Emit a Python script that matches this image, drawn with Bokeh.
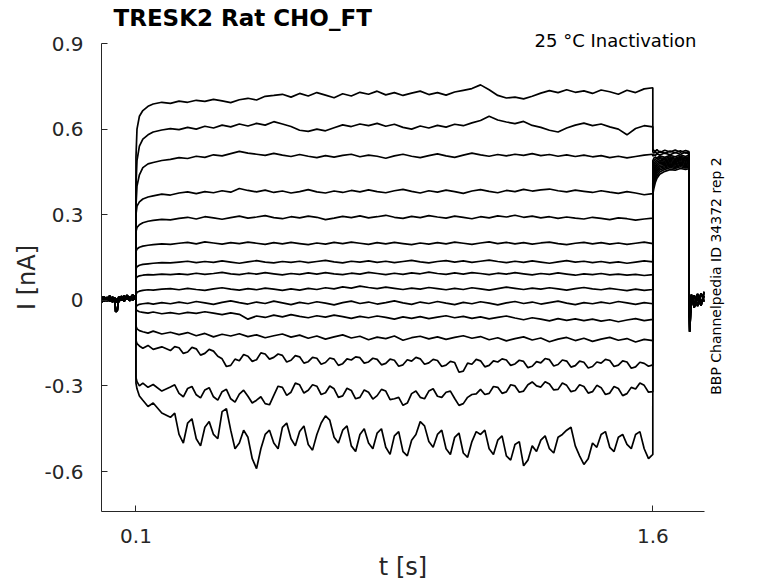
import math
from bokeh.plotting import figure
from bokeh.models import FixedTicker, LinearAxis
from bokeh.embed import file_html
from bokeh.resources import INLINE

# ---------------- data ----------------
title_text = "TRESK2  Rat  CHO_FT"
condition_text = "25 °C  Inactivation"
id_text = "BBP Channelpedia ID 34372 rep 2"

x_ticks = [0.1, 1.6]
x_tick_labels = ["0.1", "1.6"]
y_ticks = [-0.6, -0.3, 0.0, 0.3, 0.6, 0.9]
y_tick_labels = ["-0.6", "-0.3", "0", "0.3", "0.6", "0.9"]

# anchor positions (data units) of the two annotation texts
condition_x = 1.50
id_y = -0.331

# holding period before the step (s) and three overlapping baseline recordings (nA)
t_pre = [0.0, 0.008, 0.016, 0.024, 0.032, 0.038, 0.041, 0.046, 0.05, 0.058, 0.066, 0.074, 0.082, 0.09, 0.0999]
i_pre_a = [0.004, 0.012, -0.002, 0.010, 0.003, 0.008, -0.040, -0.035, 0.006, 0.014, 0.002, 0.011, -0.001, 0.009, 0.005]
i_pre_b = [-0.006, 0.002, 0.010, -0.004, 0.012, -0.002, 0.004, -0.008, 0.012, 0.000, 0.016, 0.004, 0.013, 0.001, 0.008]
i_pre_c = [0.014, -0.004, 0.006, 0.016, -0.006, 0.010, -0.003, 0.006, -0.005, 0.008, -0.004, 0.018, 0.006, 0.019, 0.012]

# step period (s)
t_step = [0.100, 0.103, 0.110, 0.120, 0.135, 0.150, 0.175, 0.200,
          0.225, 0.250, 0.275, 0.300, 0.325, 0.350, 0.375, 0.400,
          0.425, 0.450, 0.475, 0.500, 0.525, 0.550, 0.575, 0.600,
          0.625, 0.650, 0.675, 0.700, 0.725, 0.750, 0.775, 0.800,
          0.825, 0.850, 0.875, 0.900, 0.925, 0.950, 0.975, 1.000,
          1.025, 1.050, 1.075, 1.100, 1.125, 1.150, 1.175, 1.200,
          1.225, 1.250, 1.275, 1.300, 1.325, 1.350, 1.375, 1.400,
          1.425, 1.450, 1.475, 1.500, 1.525, 1.550, 1.575, 1.600]
# extra in-between samples for the three noisiest (most negative) sweeps
t_mid = [0.2125, 0.2375, 0.2625, 0.2875, 0.3125, 0.3375, 0.3625, 0.3875,
         0.4125, 0.4375, 0.4625, 0.4875, 0.5125, 0.5375, 0.5625, 0.5875,
         0.6125, 0.6375, 0.6625, 0.6875, 0.7125, 0.7375, 0.7625, 0.7875,
         0.8125, 0.8375, 0.8625, 0.8875, 0.9125, 0.9375, 0.9625, 0.9875,
         1.0125, 1.0375, 1.0625, 1.0875, 1.1125, 1.1375, 1.1625, 1.1875,
         1.2125, 1.2375, 1.2625, 1.2875, 1.3125, 1.3375, 1.3625, 1.3875,
         1.4125, 1.4375, 1.4625, 1.4875, 1.5125, 1.5375, 1.5625, 1.5875]

i_step_1 = [0.500, 0.600, 0.645, 0.665, 0.680, 0.688, 0.694, 0.690,
            0.698, 0.694, 0.701, 0.697, 0.704, 0.699, 0.693, 0.703,
            0.708, 0.702, 0.715, 0.718, 0.722, 0.712, 0.725, 0.716,
            0.728, 0.719, 0.710, 0.724, 0.716, 0.729, 0.722, 0.733,
            0.720, 0.728, 0.718, 0.726, 0.733, 0.721, 0.728, 0.719,
            0.730, 0.736, 0.742, 0.755, 0.738, 0.718, 0.709, 0.712,
            0.706, 0.715, 0.726, 0.735, 0.728, 0.738, 0.729, 0.734,
            0.725, 0.737, 0.731, 0.722, 0.736, 0.728, 0.741, 0.745]
i_step_2 = [0.400, 0.490, 0.540, 0.565, 0.580, 0.590, 0.597, 0.602,
            0.598, 0.606, 0.600, 0.610, 0.604, 0.614, 0.608, 0.618,
            0.611, 0.620, 0.614, 0.626, 0.618, 0.609, 0.596, 0.592,
            0.600, 0.594, 0.605, 0.615, 0.609, 0.618, 0.612, 0.620,
            0.610, 0.617, 0.606, 0.600, 0.611, 0.604, 0.613, 0.607,
            0.617, 0.612, 0.622, 0.630, 0.645, 0.632, 0.625, 0.619,
            0.627, 0.613, 0.606, 0.596, 0.590, 0.604, 0.614, 0.621,
            0.612, 0.618, 0.608, 0.600, 0.580, 0.602, 0.612, 0.608]
i_step_3 = [0.330, 0.400, 0.440, 0.465, 0.478, 0.483, 0.490, 0.494,
            0.500, 0.497, 0.505, 0.501, 0.510, 0.506, 0.514, 0.522,
            0.516, 0.512, 0.508, 0.515, 0.509, 0.504, 0.511, 0.505,
            0.500, 0.507, 0.502, 0.508, 0.512, 0.503, 0.509, 0.505,
            0.498, 0.506, 0.512, 0.505, 0.500, 0.507, 0.513, 0.506,
            0.501, 0.509, 0.516, 0.510, 0.505, 0.511, 0.506, 0.512,
            0.508, 0.514, 0.507, 0.511, 0.505, 0.510, 0.504, 0.509,
            0.503, 0.507, 0.500, 0.505, 0.499, 0.504, 0.509, 0.512]
i_step_4 = [0.300, 0.330, 0.345, 0.355, 0.362, 0.366, 0.372, 0.369,
            0.376, 0.380, 0.374, 0.381, 0.377, 0.384, 0.379, 0.392,
            0.385, 0.380, 0.386, 0.378, 0.383, 0.376, 0.381, 0.388,
            0.380, 0.376, 0.383, 0.378, 0.385, 0.380, 0.387, 0.381,
            0.377, 0.384, 0.389, 0.382, 0.376, 0.384, 0.379, 0.386,
            0.381, 0.375, 0.383, 0.388, 0.382, 0.377, 0.385, 0.381,
            0.389, 0.383, 0.387, 0.390, 0.384, 0.380, 0.386, 0.382,
            0.378, 0.384, 0.379, 0.375, 0.381, 0.376, 0.370, 0.374]
i_step_5 = [0.240, 0.255, 0.265, 0.272, 0.277, 0.280, 0.284, 0.282,
            0.287, 0.291, 0.285, 0.293, 0.289, 0.284, 0.290, 0.295,
            0.288, 0.292, 0.297, 0.290, 0.286, 0.293, 0.289, 0.295,
            0.291, 0.283, 0.288, 0.294, 0.290, 0.296, 0.289, 0.293,
            0.298, 0.291, 0.287, 0.294, 0.290, 0.297, 0.292, 0.288,
            0.295, 0.291, 0.286, 0.293, 0.289, 0.296, 0.292, 0.298,
            0.291, 0.295, 0.289, 0.293, 0.287, 0.292, 0.288, 0.285,
            0.291, 0.287, 0.283, 0.289, 0.286, 0.281, 0.285, 0.288]
i_step_6 = [0.170, 0.180, 0.186, 0.190, 0.193, 0.195, 0.198, 0.196,
            0.200, 0.203, 0.198, 0.205, 0.201, 0.197, 0.202, 0.199,
            0.204, 0.200, 0.196, 0.202, 0.198, 0.203, 0.199, 0.195,
            0.201, 0.197, 0.203, 0.199, 0.204, 0.200, 0.196, 0.202,
            0.198, 0.203, 0.199, 0.195, 0.201, 0.197, 0.202, 0.198,
            0.204, 0.200, 0.196, 0.201, 0.205, 0.199, 0.203, 0.198,
            0.202, 0.197, 0.201, 0.204, 0.199, 0.195, 0.200, 0.203,
            0.198, 0.202, 0.197, 0.201, 0.196, 0.200, 0.204, 0.199]
i_step_7 = [0.110, 0.118, 0.123, 0.126, 0.128, 0.130, 0.132, 0.131,
            0.134, 0.137, 0.132, 0.136, 0.133, 0.138, 0.134, 0.130,
            0.135, 0.139, 0.134, 0.131, 0.136, 0.133, 0.137, 0.132,
            0.136, 0.140, 0.135, 0.131, 0.137, 0.134, 0.138, 0.133,
            0.137, 0.132, 0.136, 0.140, 0.135, 0.131, 0.136, 0.139,
            0.134, 0.138, 0.133, 0.137, 0.141, 0.136, 0.132, 0.137,
            0.133, 0.138, 0.134, 0.130, 0.135, 0.139, 0.134, 0.137,
            0.132, 0.136, 0.131, 0.135, 0.130, 0.134, 0.138, 0.135]
i_step_8 = [0.075, 0.082, 0.086, 0.088, 0.090, 0.089, 0.092, 0.090,
            0.093, 0.090, 0.095, 0.091, 0.094, 0.098, 0.093, 0.090,
            0.095, 0.092, 0.097, 0.093, 0.089, 0.094, 0.091, 0.096,
            0.092, 0.097, 0.093, 0.090, 0.095, 0.092, 0.098, 0.094,
            0.090, 0.095, 0.091, 0.096, 0.093, 0.099, 0.094, 0.091,
            0.096, 0.092, 0.097, 0.094, 0.090, 0.095, 0.092, 0.097,
            0.093, 0.089, 0.094, 0.091, 0.096, 0.092, 0.088, 0.093,
            0.090, 0.094, 0.089, 0.092, 0.088, 0.091, 0.087, 0.090]
i_step_9 = [0.020, 0.028, 0.032, 0.035, 0.037, 0.036, 0.039, 0.041,
            0.037, 0.042, 0.038, 0.035, 0.040, 0.044, 0.039, 0.036,
            0.041, 0.037, 0.043, 0.039, 0.035, 0.040, 0.036, 0.042,
            0.038, 0.044, 0.040, 0.047, 0.043, 0.050, 0.045, 0.041,
            0.046, 0.042, 0.038, 0.043, 0.039, 0.045, 0.041, 0.037,
            0.042, 0.038, 0.044, 0.040, 0.036, 0.041, 0.046, 0.042,
            0.038, 0.043, 0.039, 0.044, 0.040, 0.036, 0.041, 0.045,
            0.040, 0.037, 0.042, 0.038, 0.034, 0.039, 0.035, 0.038]
i_step_10 = [-0.025, -0.018, -0.014, -0.012, -0.010, -0.013, -0.008, -0.012,
             -0.006, -0.011, -0.004, -0.009, -0.014, -0.007, -0.002, -0.008,
             -0.013, -0.006, -0.011, -0.003, -0.009, -0.015, -0.007, -0.012,
             -0.005, -0.010, -0.016, -0.008, -0.003, -0.011, -0.006, -0.013,
             -0.008, -0.002, -0.009, -0.014, -0.006, -0.011, -0.004, -0.010,
             -0.015, -0.007, -0.012, -0.005, -0.010, -0.016, -0.009, -0.004,
             -0.011, -0.006, -0.013, -0.008, -0.003, -0.010, -0.015, -0.008,
             -0.012, -0.006, -0.011, -0.004, -0.009, -0.014, -0.008, -0.012]
i_step_11 = [-0.030, -0.036, -0.040, -0.042, -0.045, -0.041, -0.047, -0.043,
             -0.048, -0.042, -0.046, -0.040, -0.045, -0.050, -0.044, -0.049,
             -0.066, -0.055, -0.060, -0.052, -0.058, -0.050, -0.056, -0.061,
             -0.054, -0.059, -0.052, -0.057, -0.063, -0.056, -0.061, -0.055,
             -0.060, -0.066, -0.058, -0.063, -0.057, -0.064, -0.059, -0.054,
             -0.061, -0.056, -0.063, -0.058, -0.065, -0.060, -0.055, -0.062,
             -0.068, -0.061, -0.066, -0.072, -0.064, -0.070, -0.065, -0.071,
             -0.066, -0.073, -0.068, -0.075, -0.069, -0.064, -0.071, -0.067]
i_step_12 = [-0.090, -0.100, -0.106, -0.110, -0.115, -0.108, -0.118, -0.112,
             -0.120, -0.113, -0.124, -0.116, -0.128, -0.119, -0.125, -0.117,
             -0.127, -0.121, -0.131, -0.124, -0.118, -0.129, -0.122, -0.133,
             -0.125, -0.136, -0.128, -0.121, -0.132, -0.126, -0.138, -0.129,
             -0.134, -0.125, -0.140, -0.131, -0.126, -0.135, -0.128, -0.137,
             -0.130, -0.124, -0.133, -0.127, -0.138, -0.131, -0.142, -0.134,
             -0.128, -0.139, -0.132, -0.145, -0.136, -0.130, -0.141, -0.133,
             -0.144, -0.136, -0.130, -0.140, -0.134, -0.146, -0.137, -0.141]
i_step_13 = [-0.140, -0.152, -0.160, -0.168, -0.158, -0.172, -0.163, -0.176,
             -0.166, -0.181, -0.170, -0.186, -0.178, -0.205, -0.228, -0.212,
             -0.196, -0.208, -0.188, -0.200, -0.193, -0.210, -0.198, -0.215,
             -0.203, -0.218, -0.206, -0.222, -0.209, -0.201, -0.216, -0.207,
             -0.221, -0.210, -0.226, -0.213, -0.205, -0.219, -0.211, -0.227,
             -0.218, -0.248, -0.224, -0.212, -0.228, -0.216, -0.209, -0.223,
             -0.214, -0.231, -0.219, -0.208, -0.225, -0.213, -0.229, -0.217,
             -0.232, -0.220, -0.211, -0.227, -0.216, -0.233, -0.221, -0.226]
i_step_14 = [-0.270, -0.285, -0.300, -0.290, -0.305, -0.295, -0.318, -0.304,
             -0.326, -0.309, -0.331, -0.314, -0.338, -0.320, -0.345, -0.329,
             -0.336, -0.350, -0.362, -0.333, -0.305, -0.322, -0.296, -0.315,
             -0.301, -0.324, -0.310, -0.335, -0.316, -0.340, -0.322, -0.334,
             -0.318, -0.345, -0.368, -0.327, -0.340, -0.318, -0.336, -0.322,
             -0.344, -0.362, -0.330, -0.312, -0.326, -0.305, -0.321, -0.300,
             -0.318, -0.286, -0.304, -0.293, -0.312, -0.298, -0.316, -0.302,
             -0.320, -0.306, -0.325, -0.309, -0.327, -0.311, -0.298, -0.320]
i_step_15 = [-0.290, -0.310, -0.335, -0.350, -0.372, -0.360, -0.395, -0.410,
             -0.470, -0.430, -0.485, -0.445, -0.470, -0.390, -0.455, -0.500,
             -0.480, -0.590, -0.470, -0.500, -0.445, -0.485, -0.460, -0.505,
             -0.470, -0.405, -0.480, -0.455, -0.510, -0.470, -0.500, -0.465,
             -0.515, -0.475, -0.530, -0.490, -0.425, -0.495, -0.470, -0.520,
             -0.480, -0.535, -0.495, -0.470, -0.520, -0.490, -0.545, -0.505,
             -0.580, -0.510, -0.490, -0.520, -0.480, -0.455, -0.510, -0.575,
             -0.500, -0.470, -0.515, -0.480, -0.505, -0.470, -0.520, -0.540]

i_mid_13 = [-0.162, -0.186, -0.165, -0.192, -0.172, -0.196, -0.232, -0.206,
            -0.190, -0.214, -0.184, -0.206, -0.188, -0.216, -0.194, -0.220,
            -0.200, -0.224, -0.202, -0.228, -0.205, -0.198, -0.220, -0.203,
            -0.226, -0.206, -0.231, -0.208, -0.200, -0.224, -0.207, -0.232,
            -0.214, -0.252, -0.220, -0.207, -0.233, -0.212, -0.205, -0.228,
            -0.210, -0.236, -0.215, -0.204, -0.230, -0.209, -0.234, -0.213,
            -0.237, -0.216, -0.207, -0.232, -0.212, -0.238, -0.217, -0.231]
i_mid_14 = [-0.296, -0.338, -0.302, -0.342, -0.306, -0.350, -0.312, -0.357,
            -0.315, -0.360, -0.338, -0.366, -0.301, -0.333, -0.290, -0.325,
            -0.296, -0.330, -0.300, -0.340, -0.308, -0.345, -0.314, -0.346,
            -0.312, -0.348, -0.340, -0.360, -0.318, -0.345, -0.310, -0.340,
            -0.318, -0.368, -0.340, -0.328, -0.330, -0.302, -0.326, -0.296,
            -0.322, -0.296, -0.300, -0.285, -0.314, -0.290, -0.320, -0.296,
            -0.325, -0.298, -0.330, -0.302, -0.334, -0.305, -0.290, -0.322]
i_mid_15 = [-0.395, -0.500, -0.415, -0.510, -0.425, -0.485, -0.380, -0.520,
            -0.455, -0.555, -0.520, -0.455, -0.520, -0.430, -0.510, -0.440,
            -0.525, -0.430, -0.420, -0.500, -0.440, -0.530, -0.450, -0.520,
            -0.450, -0.540, -0.460, -0.545, -0.470, -0.440, -0.515, -0.455,
            -0.540, -0.465, -0.550, -0.460, -0.455, -0.540, -0.475, -0.560,
            -0.495, -0.560, -0.530, -0.475, -0.535, -0.470, -0.445, -0.545,
            -0.555, -0.515, -0.460, -0.530, -0.470, -0.520, -0.460, -0.555]

# tail after the step: test pulse plateau, then return
t_tail = [1.6001, 1.603, 1.607, 1.612, 1.62, 1.635, 1.65, 1.665, 1.68, 1.695, 1.7049]
i_tail_1 = [0.530, 0.525, 0.522, 0.528, 0.518, 0.526, 0.520, 0.527, 0.519, 0.525, 0.521]
i_tail_2 = [0.520, 0.516, 0.521, 0.514, 0.522, 0.515, 0.523, 0.517, 0.524, 0.516, 0.520]
i_tail_3 = [0.505, 0.510, 0.507, 0.514, 0.509, 0.516, 0.510, 0.518, 0.512, 0.519, 0.513]
i_tail_4 = [0.490, 0.498, 0.502, 0.499, 0.506, 0.501, 0.508, 0.503, 0.510, 0.504, 0.509]
i_tail_5 = [0.478, 0.488, 0.494, 0.497, 0.500, 0.496, 0.503, 0.498, 0.505, 0.499, 0.504]
i_tail_6 = [0.468, 0.478, 0.486, 0.491, 0.496, 0.492, 0.499, 0.494, 0.501, 0.495, 0.500]
i_tail_7 = [0.458, 0.469, 0.478, 0.485, 0.490, 0.488, 0.494, 0.490, 0.497, 0.491, 0.496]
i_tail_8 = [0.448, 0.460, 0.470, 0.478, 0.485, 0.484, 0.490, 0.486, 0.493, 0.488, 0.492]
i_tail_9 = [0.438, 0.452, 0.463, 0.472, 0.480, 0.480, 0.486, 0.482, 0.489, 0.484, 0.488]
i_tail_10 = [0.428, 0.443, 0.455, 0.465, 0.474, 0.476, 0.482, 0.478, 0.485, 0.480, 0.484]
i_tail_11 = [0.418, 0.434, 0.447, 0.458, 0.468, 0.472, 0.478, 0.474, 0.481, 0.476, 0.480]
i_tail_12 = [0.408, 0.425, 0.440, 0.452, 0.463, 0.468, 0.474, 0.470, 0.477, 0.472, 0.476]
i_tail_13 = [0.398, 0.416, 0.432, 0.445, 0.457, 0.464, 0.470, 0.466, 0.473, 0.468, 0.472]
i_tail_14 = [0.386, 0.405, 0.423, 0.437, 0.450, 0.459, 0.465, 0.462, 0.468, 0.464, 0.467]
i_tail_15 = [0.372, 0.392, 0.412, 0.428, 0.442, 0.452, 0.458, 0.456, 0.462, 0.459, 0.461]

t_post = [1.7051, 1.707, 1.712, 1.72, 1.73, 1.74, 1.75]
i_post_a = [-0.020, -0.110, 0.010, -0.015, 0.022, -0.010, 0.015]
i_post_b = [0.005, -0.060, -0.012, 0.018, -0.020, 0.025, -0.005]
i_post_c = [-0.030, -0.035, 0.020, -0.025, 0.008, -0.018, 0.030]

steps = [i_step_1, i_step_2, i_step_3, i_step_4, i_step_5, i_step_6, i_step_7, i_step_8,
         i_step_9, i_step_10, i_step_11, i_step_12, i_step_13, i_step_14, i_step_15]
tails = [i_tail_1, i_tail_2, i_tail_3, i_tail_4, i_tail_5, i_tail_6, i_tail_7, i_tail_8,
         i_tail_9, i_tail_10, i_tail_11, i_tail_12, i_tail_13, i_tail_14, i_tail_15]
mids = {12: i_mid_13, 13: i_mid_14, 14: i_mid_15}
pres = [i_pre_a, i_pre_b, i_pre_c]
posts = [i_post_a, i_post_b, i_post_c]

# ---------------- figure ----------------
FONT = "DejaVu Sans"
AX = "#262626"

p = figure(width=778, height=583, x_range=(0, 1.75), y_range=(-0.74, 0.9),
           output_backend="svg", toolbar_location=None, title=title_text,
           min_border_left=101, min_border_right=74, min_border_top=43, min_border_bottom=71)
p.outline_line_color = None
p.grid.visible = False
p.background_fill_color = "white"
p.border_fill_color = "white"

p.title.text_font = FONT
p.title.text_font_size = "23px"
p.title.text_font_style = "bold"
p.title.text_color = "black"
p.title.align = "left"
p.title.vertical_align = "bottom"
p.title.offset = 12
p.title.standoff = -9

xs, ys = [], []
for k in range(len(steps)):
    pts = list(zip(t_step, steps[k]))
    if k in mids:
        pts = sorted(pts + list(zip(t_mid, mids[k])))
    xs.append(t_pre + [t for t, _ in pts] + t_tail + t_post)
    ys.append(pres[k % 3] + [v for _, v in pts] + tails[k] + posts[k % 3])
p.multi_line(xs, ys, line_color="black", line_width=1.7)

for ax in (p.xaxis, p.yaxis):
    ax.axis_line_color = AX
    ax.axis_line_width = 1
    ax.major_tick_line_color = AX
    ax.major_tick_in = 6
    ax.major_tick_out = 0
    ax.minor_tick_line_color = None
    ax.major_label_text_font = FONT
    ax.major_label_text_font_size = "20px"
    ax.major_label_text_color = AX
    ax.axis_label_text_font = FONT
    ax.axis_label_text_font_size = "24px"
    ax.axis_label_text_font_style = "normal"
    ax.axis_label_text_color = AX

p.xaxis.ticker = FixedTicker(ticks=x_ticks)
p.xaxis.major_label_overrides = dict(zip(x_ticks, x_tick_labels))
p.xaxis.axis_label = "t [s]"
p.xaxis.major_label_standoff = 17
p.xaxis.axis_label_standoff = 7

p.yaxis.ticker = FixedTicker(ticks=y_ticks)
p.yaxis.major_label_overrides = dict(zip(y_ticks, y_tick_labels))
p.yaxis.axis_label = "I [nA]"
p.yaxis.major_label_standoff = 18
p.yaxis.axis_label_standoff = 0

# condition text, as the only tick label of a bare axis above the frame
tax = LinearAxis(ticker=FixedTicker(ticks=[condition_x]),
                 major_label_overrides={condition_x: condition_text},
                 axis_line_color=None, major_tick_line_color=None, minor_tick_line_color=None,
                 major_label_standoff=-13, major_label_text_font=FONT,
                 major_label_text_font_size="18px", major_label_text_color="black")
p.add_layout(tax, "above")

# identification text on the right, as the only (rotated) tick label of a bare right axis
rax = LinearAxis(ticker=FixedTicker(ticks=[id_y]),
                 major_label_overrides={id_y: id_text},
                 major_label_orientation=math.pi / 2,
                 axis_line_color=None, major_tick_line_color=None, minor_tick_line_color=None,
                 major_label_standoff=6, major_label_text_font=FONT,
                 major_label_text_font_size="14px", major_label_text_color="black")
p.add_layout(rax, "right")

open("out.html", "w").write(file_html(p, INLINE))
